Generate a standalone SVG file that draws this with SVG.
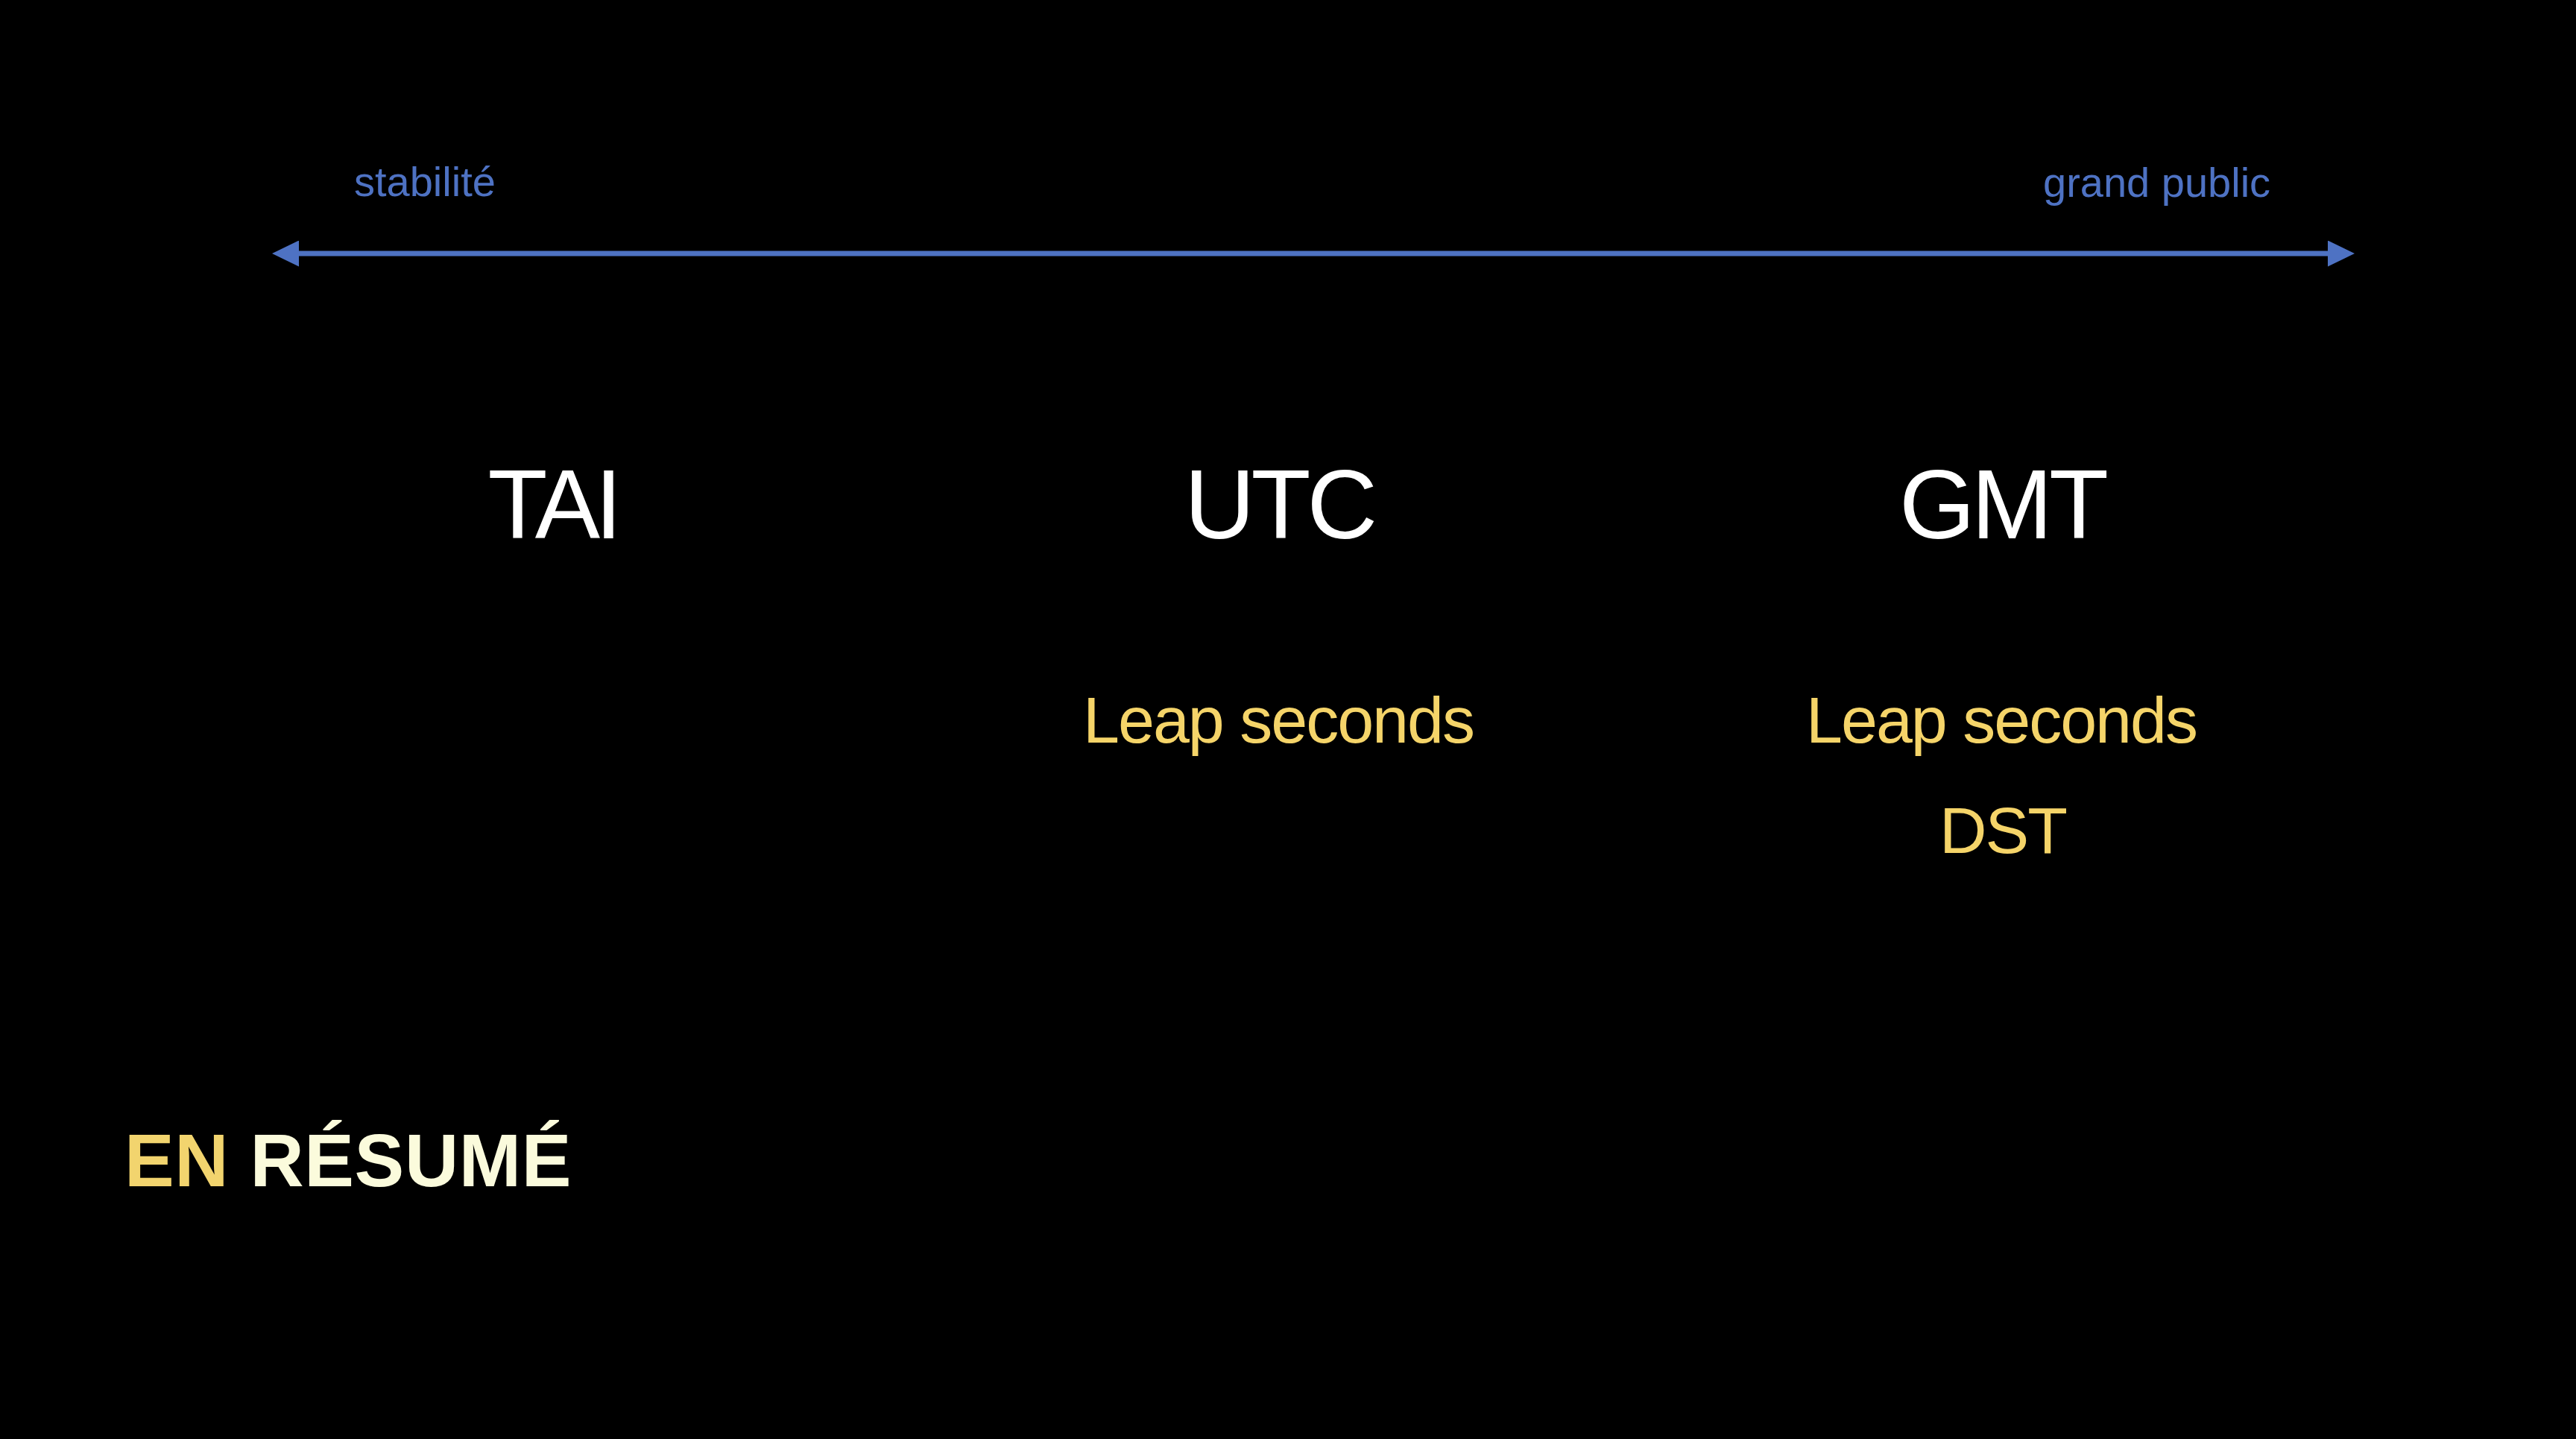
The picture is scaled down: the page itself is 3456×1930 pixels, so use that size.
<svg xmlns="http://www.w3.org/2000/svg" width="3456" height="1930" viewBox="0 0 3456 1930">
  <defs>
    <style>
      .axis-label { font-family: "Liberation Sans", Arial, sans-serif; font-size: 56px; fill: #4E72C3; }
      .scale { font-family: "Liberation Sans", Arial, sans-serif; font-size: 131px; fill: #FFFFFF; text-anchor: middle; letter-spacing: -5px; }
      .trait { font-family: "Liberation Sans", Arial, sans-serif; font-size: 88px; fill: #F5D469; text-anchor: middle; letter-spacing: -2px; }
      .title { font-family: "Liberation Sans", Arial, sans-serif; font-size: 100px; font-weight: bold; letter-spacing: 0.6px; }
    </style>
    <marker id="head" markerUnits="userSpaceOnUse" markerWidth="36" markerHeight="35" refX="0" refY="17.5" orient="auto-start-reverse">
      <path d="M0,0 L36,17.5 L0,35 Z" fill="#4E72C3"/>
    </marker>
  </defs>

  <rect width="3456" height="1930" fill="#000000"/>

  <!-- double-headed axis -->
  <g id="connectors">
    <line x1="401" y1="340" x2="3123" y2="340" stroke="#4E72C3" stroke-width="7" marker-start="url(#head)" marker-end="url(#head)"/>
  </g>

  <g id="axis-labels">
    <text class="axis-label" x="475" y="263">stabilité</text>
    <text class="axis-label" x="2741" y="264">grand public</text>
  </g>

  <g id="tai">
    <text class="scale" x="741" y="722" style="letter-spacing:-7px">TAI</text>
  </g>

  <g id="utc">
    <text class="scale" x="1716" y="722">UTC</text>
    <text class="trait" x="1715" y="996">Leap seconds</text>
  </g>

  <g id="gmt">
    <text class="scale" x="2686" y="722">GMT</text>
    <text class="trait" x="2685" y="996">Leap seconds</text>
    <text class="trait" x="2687" y="1144">DST</text>
  </g>

  <g id="title">
    <text class="title" x="167" y="1591"><tspan fill="#F2D46E">EN </tspan><tspan fill="#FBFBDC">RÉSUMÉ</tspan></text>
  </g>
</svg>
